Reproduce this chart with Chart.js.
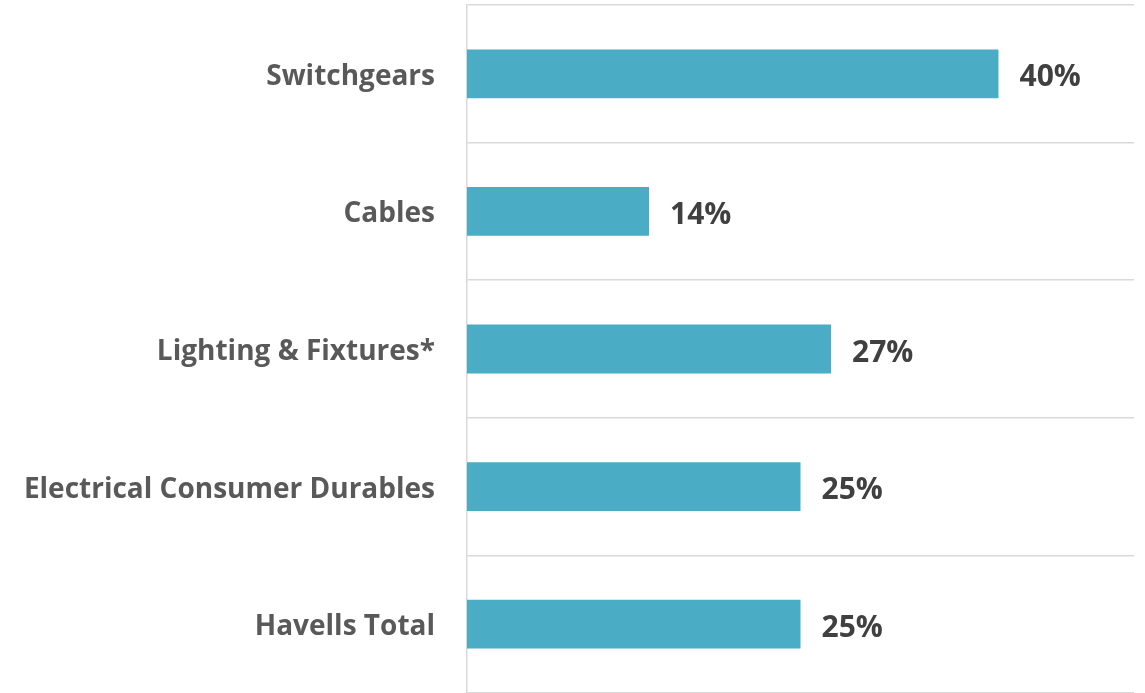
<!DOCTYPE html>
<html>
<head>
<meta charset="utf-8">
<script src="https://cdn.jsdelivr.net/npm/chart.js@4"></script>
<style>
  html, body { margin: 0; padding: 0; background: #ffffff; overflow: hidden; }
  #wrap { width: 1145px; height: 693px; position: relative; }
</style>
</head>
<body>
<div id="wrap"><canvas id="chart"></canvas></div>
<script>
// Chart data
const categories = ['Switchgears', 'Cables', 'Lighting & Fixtures*', 'Electrical Consumer Durables', 'Havells Total'];
const growthValues = [40, 13.7, 27.4, 25.1, 25.1];
const valueLabels = ['40%', '14%', '27%', '25%', '25%'];

// Simple inline plugin drawing the value labels right of each bar
const barValueLabels = {
    id: 'barValueLabels',
    afterDatasetsDraw(chart) {
        const ctx = chart.ctx;
        const meta = chart.getDatasetMeta(0);
        ctx.save();
        ctx.font = 'bold 30px "Open Sans"';
        ctx.fillStyle = '#404040';
        ctx.textAlign = 'left';
        ctx.textBaseline = 'middle';
        meta.data.forEach((bar, i) => {
            ctx.fillText(valueLabels[i], bar.x + 21, bar.y + 4);
        });
        ctx.restore();
    }
};

new Chart(document.getElementById('chart'), {
    type: 'bar',
    data: {
        labels: categories,
        datasets: [{
            data: growthValues,
            backgroundColor: '#4bacc6',
            barPercentage: 0.71,
            categoryPercentage: 0.5
        }]
    },
    options: {
        indexAxis: 'y',
        responsive: true,
        maintainAspectRatio: false,
        animation: false,
        layout: {
            padding: { top: 5, right: 11, bottom: -2, left: 0 }
        },
        plugins: {
            legend: { display: false },
            tooltip: { enabled: false }
        },
        scales: {
            x: {
                display: false,
                min: 0,
                max: 50.2
            },
            y: {
                // fixed axis width, and no extra top/bottom padding from tick labels
                afterFit: (scale) => {
                    scale.width = 467;
                    scale.paddingTop = 0;
                    scale.paddingBottom = 0;
                },
                grid: {
                    color: '#d9d9d9',
                    lineWidth: 1.5,
                    drawTicks: false
                },
                border: { color: '#d9d9d9', width: 1.5 },
                ticks: {
                    color: '#595959',
                    padding: 32,
                    labelOffset: 3,
                    font: { family: 'Open Sans', size: 28, weight: 'bold' }
                }
            }
        }
    },
    plugins: [barValueLabels]
});
</script>
</body>
</html>
